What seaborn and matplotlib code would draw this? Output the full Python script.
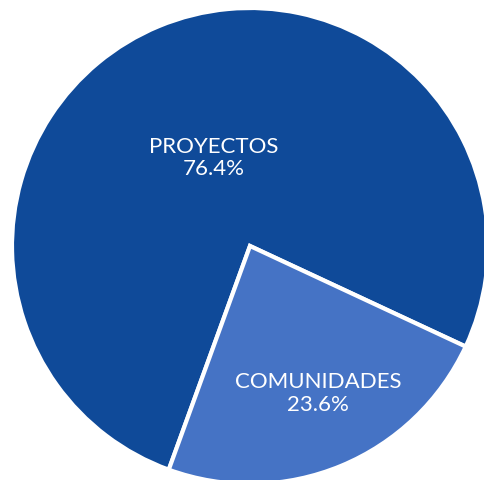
import numpy as np
import matplotlib
matplotlib.use("Agg")
import matplotlib.pyplot as plt
import seaborn as sns

# data
categories = ["PROYECTOS", "COMUNIDADES"]
shares = [76.4, 23.6]
colors = ["#0F4A99", "#4573C5"]

sns.set_theme(style="white")
plt.rcParams['font.family'] = ['Lato', 'DejaVu Sans']

fig = plt.figure(figsize=(4.84, 4.8), dpi=100)
# pie centre ~ (250, 246) px, radius ~ 238 px
ax = fig.add_axes([(250 - 238) / 484, (480 - 246 - 238) / 480, 476 / 484, 476 / 480])

wedges, _ = ax.pie(
    shares, colors=colors, startangle=-25.0, counterclock=True,
    wedgeprops=dict(edgecolor="white", linewidth=3), radius=1.0,
)

# labels inside each wedge
label_r = [0.40, 0.67]
for w, cat, val, r in zip(wedges, categories, shares, label_r):
    mid = np.deg2rad((w.theta1 + w.theta2) / 2)
    ax.text(r * np.cos(mid) + (0.03 if r > 0.5 else 0), r * np.sin(mid),
            f"{cat}\n{val}%", ha="center", va="center",
            color="white", fontsize=16, linespacing=1.15)

ax.set_xlim(-1, 1)
ax.set_ylim(-1, 1)
ax.set_aspect("equal")
ax.axis("off")

plt.savefig("out.png", dpi=100)
plt.close()
